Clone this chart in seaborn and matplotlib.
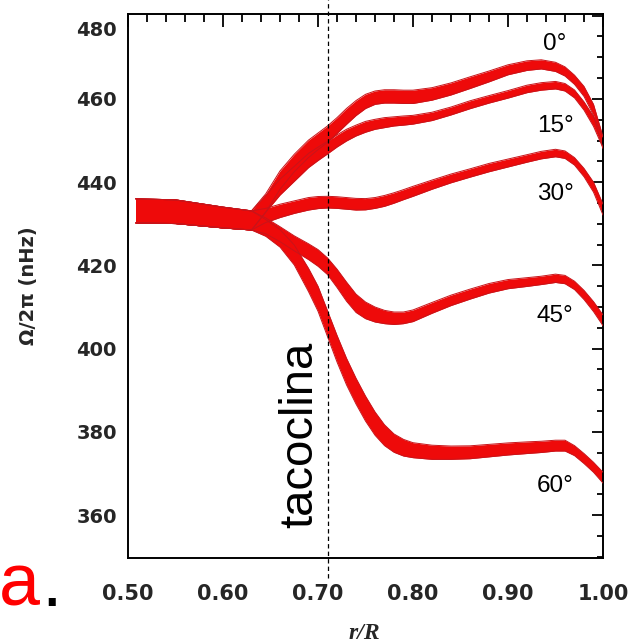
import numpy as np
import matplotlib
matplotlib.use("Agg")
import matplotlib.pyplot as plt
from matplotlib.ticker import MultipleLocator, FormatStrFormatter
from matplotlib.transforms import ScaledTranslation
import seaborn as sns

# ---- data ----
r = [0.508, 0.55, 0.60, 0.63, 0.645, 0.66, 0.675, 0.69, 0.70, 0.71, 0.72, 0.73, 0.74,
     0.75, 0.76, 0.77, 0.78, 0.79, 0.80, 0.82, 0.84, 0.86, 0.88, 0.90, 0.92, 0.935,
     0.95, 0.96, 0.97, 0.98, 0.99, 1.00]

lat0 = [433.1, 432.9, 431.5, 430.8, 435.0, 440.5, 444.6, 448.0, 449.8, 451.5, 453.6, 455.8, 457.8,
        459.4, 460.3, 460.6, 460.6, 460.5, 460.5, 461.2, 462.4, 463.9, 465.4, 467.0, 468.0, 468.3,
        467.7, 466.6, 464.6, 461.8, 457.4, 449.5]
err0 = [2.9, 2.85, 2.5, 2.3, 2.2, 2.2, 2.1, 2.1, 2.0, 2.0, 1.9, 1.9, 1.8,
        1.7, 1.6, 1.6, 1.6, 1.6, 1.6, 1.5, 1.45, 1.4, 1.3, 1.2, 1.15, 1.1,
        1.1, 1.1, 1.1, 1.2, 1.3, 1.4]

lat15 = [433.1, 432.9, 431.5, 430.8, 434.8, 438.8, 442.0, 445.2, 446.8, 448.3, 449.9, 451.3, 452.4,
         453.3, 453.9, 454.3, 454.6, 454.8, 455.0, 455.8, 457.1, 458.6, 459.9, 461.1, 462.4, 463.0,
         463.3, 462.8, 461.2, 458.3, 454.6, 449.5]
err15 = [2.9, 2.85, 2.5, 2.3, 2.0, 1.9, 1.8, 1.7, 1.6, 1.5, 1.45, 1.4, 1.3,
         1.3, 1.2, 1.2, 1.1, 1.1, 1.05, 1.0, 0.95, 0.95, 0.9, 0.9, 0.9, 0.9,
         0.9, 0.9, 0.95, 1.0, 1.2, 1.3]

lat30 = [433.1, 432.9, 431.5, 430.8, 432.0, 433.1, 434.0, 434.8, 435.1, 435.2, 435.1, 434.9, 434.7,
         434.7, 435.0, 435.5, 436.2, 437.0, 437.8, 439.4, 440.9, 442.2, 443.5, 444.6, 445.7, 446.5,
         447.0, 446.6, 445.0, 442.3, 438.8, 433.4]
err30 = [2.9, 2.85, 2.5, 2.3, 1.7, 1.6, 1.5, 1.5, 1.45, 1.4, 1.4, 1.4, 1.4,
         1.35, 1.3, 1.3, 1.25, 1.2, 1.2, 1.1, 1.05, 1.0, 1.0, 0.95, 0.9, 0.9,
         0.9, 0.9, 0.9, 1.0, 1.2, 1.3]

lat45 = [433.1, 432.9, 431.5, 430.8, 429.5, 427.5, 425.3, 423.3, 421.8, 419.8, 416.9, 413.7, 410.9,
         409.2, 408.2, 407.6, 407.3, 407.4, 407.9, 409.8, 411.6, 413.1, 414.5, 415.5, 416.0, 416.4,
         416.9, 416.6, 415.2, 412.9, 410.1, 406.8]
err45 = [2.9, 2.85, 2.5, 2.3, 1.9, 1.8, 1.8, 1.9, 2.0, 2.0, 2.2, 2.3, 2.2,
         2.0, 1.8, 1.6, 1.5, 1.4, 1.4, 1.3, 1.25, 1.2, 1.15, 1.1, 1.05, 1.0,
         1.0, 1.0, 1.0, 1.1, 1.2, 1.3]

lat60 = [433.1, 432.9, 431.5, 430.8, 429.0, 426.5, 422.5, 416.5, 412.0, 406.0, 400.0, 394.5, 389.8,
         385.6, 382.0, 379.2, 377.3, 376.2, 375.6, 375.1, 375.0, 375.1, 375.5, 375.9, 376.2, 376.4,
         376.7, 376.7, 375.5, 373.6, 371.5, 369.0]
err60 = [2.9, 2.85, 2.5, 2.3, 2.0, 2.1, 2.4, 2.8, 3.0, 3.1, 3.2, 3.2, 3.1,
         3.0, 2.8, 2.5, 2.2, 2.0, 1.8, 1.7, 1.6, 1.55, 1.5, 1.45, 1.4, 1.35,
         1.3, 1.3, 1.2, 1.2, 1.2, 1.3]

latitudes = ["0°", "15°", "30°", "45°", "60°"]
series = [(lat0, err0), (lat15, err15), (lat30, err30), (lat45, err45), (lat60, err60)]
label_pos = [(0.9368, 471.8), (0.9305, 452.1), (0.9305, 435.7), (0.9305, 406.4), (0.9305, 365.5)]

x_ticks = [0.50, 0.60, 0.70, 0.80, 0.90, 1.00]
y_ticks = [360, 380, 400, 420, 440, 460, 480]
tachocline_r = 0.71

# ---- style ----
sns.set_style("white")
plt.rcParams["font.family"] = ["DejaVu Sans"]

W = 643
fig = plt.figure(figsize=(6.43, 6.43), dpi=100)
ax = fig.add_axes([128 / W, 1 - 558 / W, 475 / W, 544 / W])

fill_col = "#ee0a0a"
edge_col = "#c8141a"

r_arr = np.array(r)
for (vals, errs) in series:
    v = np.array(vals)
    e = np.array(errs)
    ax.fill_between(r_arr, v - e, v + e, color=fill_col, linewidth=0, zorder=2)
    sns.lineplot(x=r_arr, y=v + e, ax=ax, color=edge_col, linewidth=0.7,
                 estimator=None, sort=False, legend=False, zorder=3)
    sns.lineplot(x=r_arr, y=v - e, ax=ax, color=edge_col, linewidth=0.7,
                 estimator=None, sort=False, legend=False, zorder=3)

for lab, (lx, ly) in zip(latitudes, label_pos):
    ax.text(lx, ly, lab, fontsize=17.5, family="Liberation Sans", ha="left",
            va="baseline", color="black", zorder=5)

ax.set_xlim(0.5, 1.0)
ax.set_ylim(349.7, 480.4)

ax.xaxis.set_minor_locator(MultipleLocator(0.02))
ax.yaxis.set_minor_locator(MultipleLocator(5))
ax.set_xticks(x_ticks)
ax.set_yticks(y_ticks)
ax.xaxis.set_major_formatter(FormatStrFormatter("%.2f"))

ax.tick_params(axis="both", which="both", direction="in", top=True, right=True,
               width=1.3, color="black")
ax.tick_params(axis="x", which="major", length=9.4, pad=19, labelsize=15)
ax.tick_params(axis="x", which="minor", length=5.8)
ax.tick_params(axis="y", which="major", length=7.9, pad=8, labelsize=14)
ax.tick_params(axis="y", which="minor", length=4.3)
for lbl in ax.get_xticklabels() + ax.get_yticklabels():
    lbl.set_fontweight("bold")
# the top y label in the reference sits a little below its tick
for lbl in ax.get_yticklabels():
    if lbl.get_text() == "480":
        lbl.set_transform(lbl.get_transform() + ScaledTranslation(0, -0.13, fig.dpi_scale_trans))

for sp in ax.spines.values():
    sp.set_color("black")
    sp.set_linewidth(1.4)
    sp.set_visible(True)

ax.set_ylabel("Ω/2π (nHz)", fontsize=14, fontweight="bold")
ax.yaxis.set_label_coords(-0.189, 0.5)
ax.set_xlabel("r/R", fontsize=17, family="Liberation Serif", fontstyle="italic",
              fontweight="bold")
ax.xaxis.set_label_coords(0.497, -0.139)
ax.xaxis.label.set_verticalalignment("center")

# tachocline marker
ax.axvline(tachocline_r, ymin=-0.037, ymax=1.026, color="black", linewidth=0.9,
           linestyle=(0, (3.5, 2.5)), clip_on=False, zorder=4)
ax.text(0.681, 379.2, "tacoclina", rotation=90, fontsize=34, family="Liberation Sans",
        ha="center", va="center", color="black", zorder=5)

# panel letter
fig.text(-1 / W, 1 - 606 / W, "a", fontsize=53, family="Liberation Sans",
         color="#ff0000", ha="left", va="baseline")
fig.text(41 / W, 1 - 606 / W, ".", fontsize=53, family="Liberation Sans",
         color="black", ha="left", va="baseline")

fig.savefig("out.png", dpi=100, facecolor="white")
